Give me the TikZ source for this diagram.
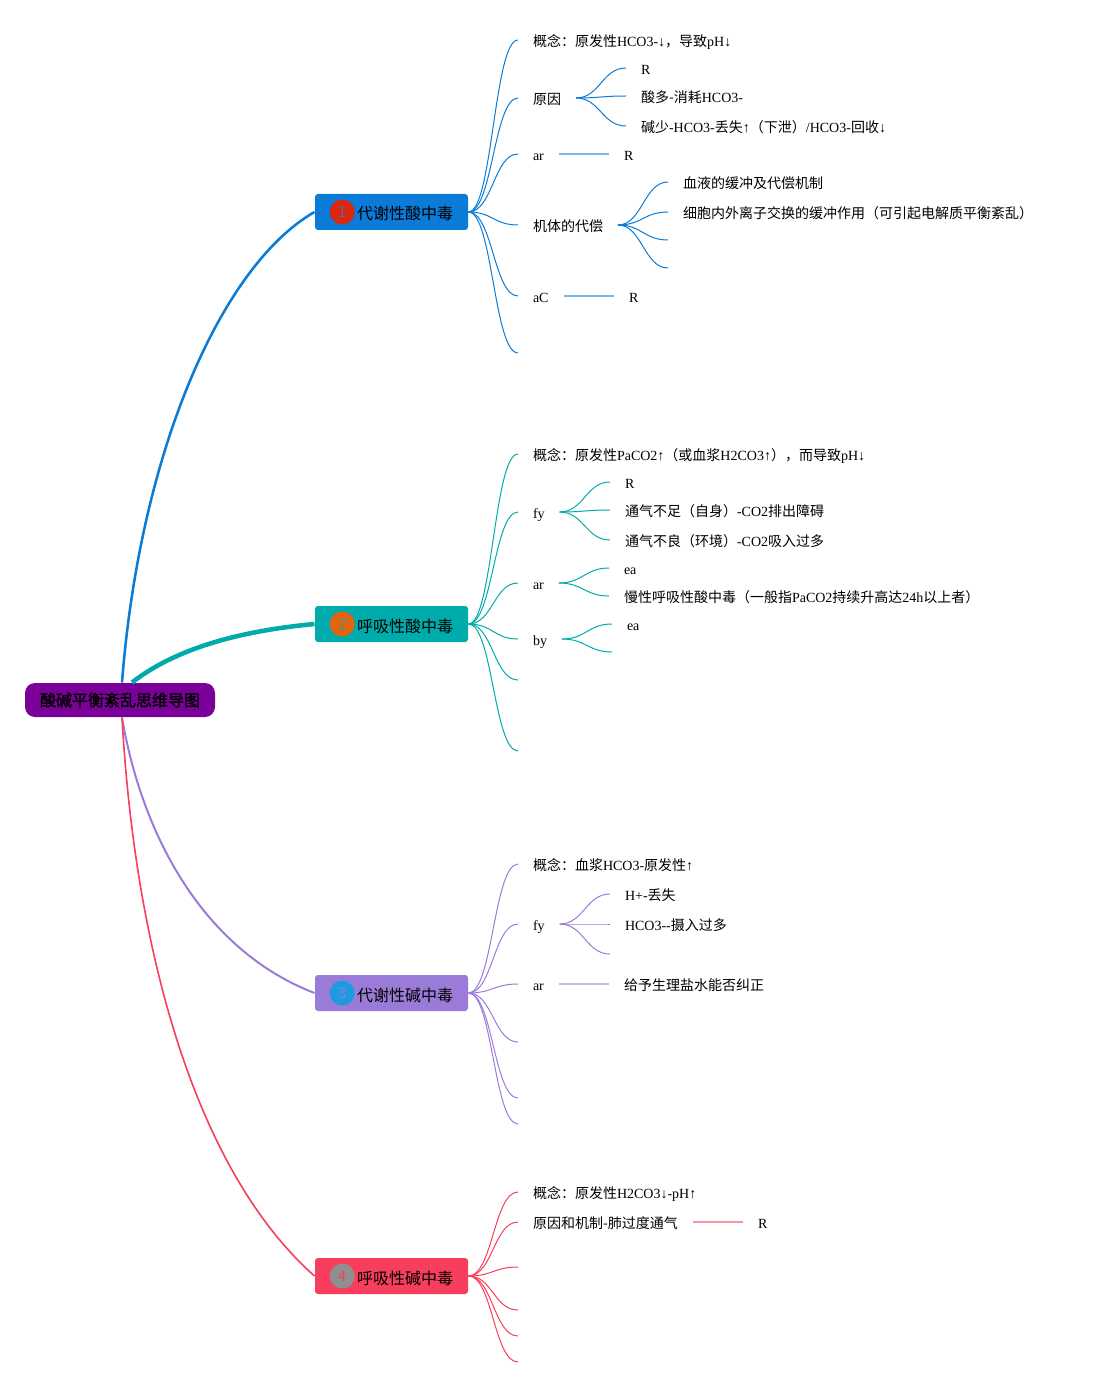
\documentclass[tikz,border=0pt]{standalone}
\usepackage{fontspec}
\setmainfont{Liberation Serif}
\newfontfamily\cjk{Noto Sans CJK SC}
\newfontfamily\cjkbold[FakeBold=1.5]{Noto Sans CJK SC}
\newcommand{\zh}[1]{{\cjk #1}}
\definecolor{branchA}{HTML}{0A7BD6}
\definecolor{branchB}{HTML}{00ABAB}
\definecolor{branchC}{HTML}{9B7BD8}
\definecolor{branchD}{HTML}{F73E5C}
\definecolor{rootfill}{HTML}{7B0099}
\tikzset{every picture/.style={line width=0.75pt}}
\tikzset{
  rootbox/.style={fill=rootfill,draw=none,rounded corners=7.5pt,minimum width=142.5pt,minimum height=25.5pt,inner sep=0pt,font=\fontsize{12}{14}\selectfont},
  topbox/.style={draw=none,rounded corners=2.25pt,minimum height=27pt,inner ysep=0pt,inner xsep=11.25pt,text height=13pt,text depth=1pt,font=\fontsize{12}{14}\selectfont},
  badge/.style={circle,minimum size=18.75pt,inner sep=0pt,font=\fontsize{12}{14}\selectfont\sffamily},
  leaf/.style={anchor=west,inner sep=0pt,outer ysep=0pt,outer xsep=11.25pt,text height=11pt,text depth=1.6pt,font=\fontsize{10.5}{12}\selectfont},
  twig/.style={line width=0.65pt,to path={.. controls +(24,0) and +(-24,0) .. (\tikztotarget)}},
  rule/.style={line width=1.1pt,opacity=0.55}
}
\begin{document}
\begin{tikzpicture}[x=0.75pt,y=0.75pt,yscale=-1,xscale=1]
\useasboundingbox (0,0) rectangle (1093,1387);

% Root and main nodes
\node [rootbox] (root) at (120,700) {\cjkbold 酸碱平衡紊乱思维导图};
\node [topbox,fill=branchA] (main1) at (391.5,212) {\hspace{20.25pt}\zh{代谢性酸中毒}};
\node [topbox,fill=branchB] (main2) at (391.5,624) {\hspace{20.25pt}\zh{呼吸性酸中毒}};
\node [topbox,fill=branchC] (main3) at (391.5,993) {\hspace{20.25pt}\zh{代谢性碱中毒}};
\node [topbox,fill=branchD] (main4) at (391.5,1276) {\hspace{20.25pt}\zh{呼吸性碱中毒}};
\node [badge,fill={rgb,255:red,217;green,40;blue,15},text=branchA!70!gray] (badge1) at ([xshift=20.8pt]main1.west) {1};
\node [badge,fill={rgb,255:red,226;green,100;blue,14},text=branchB!70!gray] (badge2) at ([xshift=20.8pt]main2.west) {2};
\node [badge,fill={rgb,255:red,30;green,155;blue,224},text=branchC] (badge3) at ([xshift=20.8pt]main3.west) {3};
\node [badge,fill={rgb,255:red,143;green,143;blue,143},text=branchD] (badge4) at ([xshift=20.8pt]main4.west) {4};

% Main curves
\draw [branchA,line width=1.9pt] ([xshift=1.5pt]root.north) .. controls (140,450) and (222,265) .. (main1.west);
\draw [branchB,line width=3.4pt] ([xshift=9pt]root.north) .. controls (180,645) and (250,630) .. (main2.west);
\draw [branchC,line width=1.5pt] ([xshift=1.5pt]root.south) .. controls (142,835) and (203,950) .. (main3.west);
\draw [branchD,line width=1.2pt] ([xshift=1.5pt]root.south) .. controls (135,950) and (195,1170) .. (main4.west);

% Group 1
\node [leaf] (a1) at (518,40) {\zh{概念：原发性}HCO3-↓\zh{，导致}pH↓};
\node [leaf] (a2) at (518,98) {\zh{原因}};
\node [leaf] (a3) at (518,154) {ar};
\node [leaf] (a4) at (518,225) {\zh{机体的代偿}};
\node [leaf] (a5) at (518,296) {aC};
\coordinate (a6) at (518,353);
\node [leaf] (a21) at (626,68) {R};
\node [leaf] (a22) at (626,96) {\zh{酸多-消耗}HCO3-};
\node [leaf] (a23) at (626,126) {\zh{碱少}-HCO3-\zh{丢失}↑\zh{（下泄）}/HCO3-\zh{回收}↓};
\node [leaf] (a31) at (609,154) {R};
\node [leaf] (a41) at (668,182) {\zh{血液的缓冲及代偿机制}};
\node [leaf] (a42) at (668,212) {\zh{细胞内外离子交换的缓冲作用（可引起电解质平衡紊乱）}};
\coordinate (a43) at (668,240);
\coordinate (a44) at (668,268);
\node [leaf] (a51) at (614,296) {R};
\draw [branchA] (main1.east) to[twig] (a1.west);
\draw [branchA] (main1.east) to[twig] (a2.west);
\draw [branchA] (main1.east) to[twig] (a3.west);
\draw [branchA] (main1.east) to[twig] (a4.west);
\draw [branchA] (main1.east) to[twig] (a5.west);
\draw [branchA] (main1.east) to[twig] (a6);
\draw [branchA] (a2.east) to[twig] (a21.west);
\draw [branchA] (a2.east) to[twig] (a22.west);
\draw [branchA] (a2.east) to[twig] (a23.west);
\draw [branchA,rule] (a3.east) -- (a31.west);
\draw [branchA] (a4.east) to[twig] (a41.west);
\draw [branchA] (a4.east) to[twig] (a42.west);
\draw [branchA] (a4.east) to[twig] (a43);
\draw [branchA] (a4.east) to[twig] (a44);
\draw [branchA,rule] (a5.east) -- (a51.west);

% Group 2
\node [leaf] (b1) at (518,454) {\zh{概念：原发性}PaCO2↑\zh{（或血浆}H2CO3↑\zh{），而导致}pH↓};
\node [leaf] (b2) at (518,512) {fy};
\node [leaf] (b3) at (518,583) {ar};
\node [leaf] (b4) at (518,639) {by};
\coordinate (b5) at (518,680);
\coordinate (b6) at (518,751);
\node [leaf] (b21) at (610,482) {R};
\node [leaf] (b22) at (610,510) {\zh{通气不足（自身）}-CO2\zh{排出障碍}};
\node [leaf] (b23) at (610,540) {\zh{通气不良（环境）}-CO2\zh{吸入过多}};
\node [leaf] (b31) at (609,568) {ea};
\node [leaf] (b32) at (609,596) {\zh{慢性呼吸性酸中毒（一般指}PaCO2\zh{持续升高达}24h\zh{以上者）}};
\node [leaf] (b41) at (612,624) {ea};
\coordinate (b42) at (612,652);
\draw [branchB] (main2.east) to[twig] (b1.west);
\draw [branchB] (main2.east) to[twig] (b2.west);
\draw [branchB] (main2.east) to[twig] (b3.west);
\draw [branchB] (main2.east) to[twig] (b4.west);
\draw [branchB] (main2.east) to[twig] (b5);
\draw [branchB] (main2.east) to[twig] (b6);
\draw [branchB] (b2.east) to[twig] (b21.west);
\draw [branchB] (b2.east) to[twig] (b22.west);
\draw [branchB] (b2.east) to[twig] (b23.west);
\draw [branchB] (b3.east) to[twig] (b31.west);
\draw [branchB] (b3.east) to[twig] (b32.west);
\draw [branchB] (b4.east) to[twig] (b41.west);
\draw [branchB] (b4.east) to[twig] (b42);

% Group 3
\node [leaf] (c1) at (518,864) {\zh{概念：血浆}HCO3-\zh{原发性}↑};
\node [leaf] (c2) at (518,924) {fy};
\node [leaf] (c3) at (518,984) {ar};
\coordinate (c4) at (518,1042);
\coordinate (c5) at (518,1098);
\coordinate (c6) at (518,1124);
\node [leaf] (c21) at (610,894) {H+-\zh{丢失}};
\node [leaf] (c22) at (610,924) {HCO3-{}-\zh{摄入过多}};
\coordinate (c23) at (610,954);
\node [leaf] (c31) at (609,984) {\zh{给予生理盐水能否纠正}};
\draw [branchC] (main3.east) to[twig] (c1.west);
\draw [branchC] (main3.east) to[twig] (c2.west);
\draw [branchC] (main3.east) to[twig] (c3.west);
\draw [branchC] (main3.east) to[twig] (c4);
\draw [branchC] (main3.east) to[twig] (c5);
\draw [branchC] (main3.east) to[twig] (c6);
\draw [branchC] (c2.east) to[twig] (c21.west);
\draw [branchC] (c2.east) to[twig] (c22.west);
\draw [branchC] (c2.east) to[twig] (c23);
\draw [branchC,rule] (c3.east) -- (c31.west);

% Group 4
\node [leaf] (d1) at (518,1192) {\zh{概念：原发性}H2CO3↓-pH↑};
\node [leaf] (d2) at (518,1222) {\zh{原因和机制-肺过度通气}};
\coordinate (d3) at (518,1267);
\coordinate (d4) at (518,1310);
\coordinate (d5) at (518,1336);
\coordinate (d6) at (518,1362);
\node [leaf] (d21) at (743,1222) {R};
\draw [branchD] (main4.east) to[twig] (d1.west);
\draw [branchD] (main4.east) to[twig] (d2.west);
\draw [branchD] (main4.east) to[twig] (d3);
\draw [branchD] (main4.east) to[twig] (d4);
\draw [branchD] (main4.east) to[twig] (d5);
\draw [branchD] (main4.east) to[twig] (d6);
\draw [branchD,rule] (d2.east) -- (d21.west);

\end{tikzpicture}
\end{document}
